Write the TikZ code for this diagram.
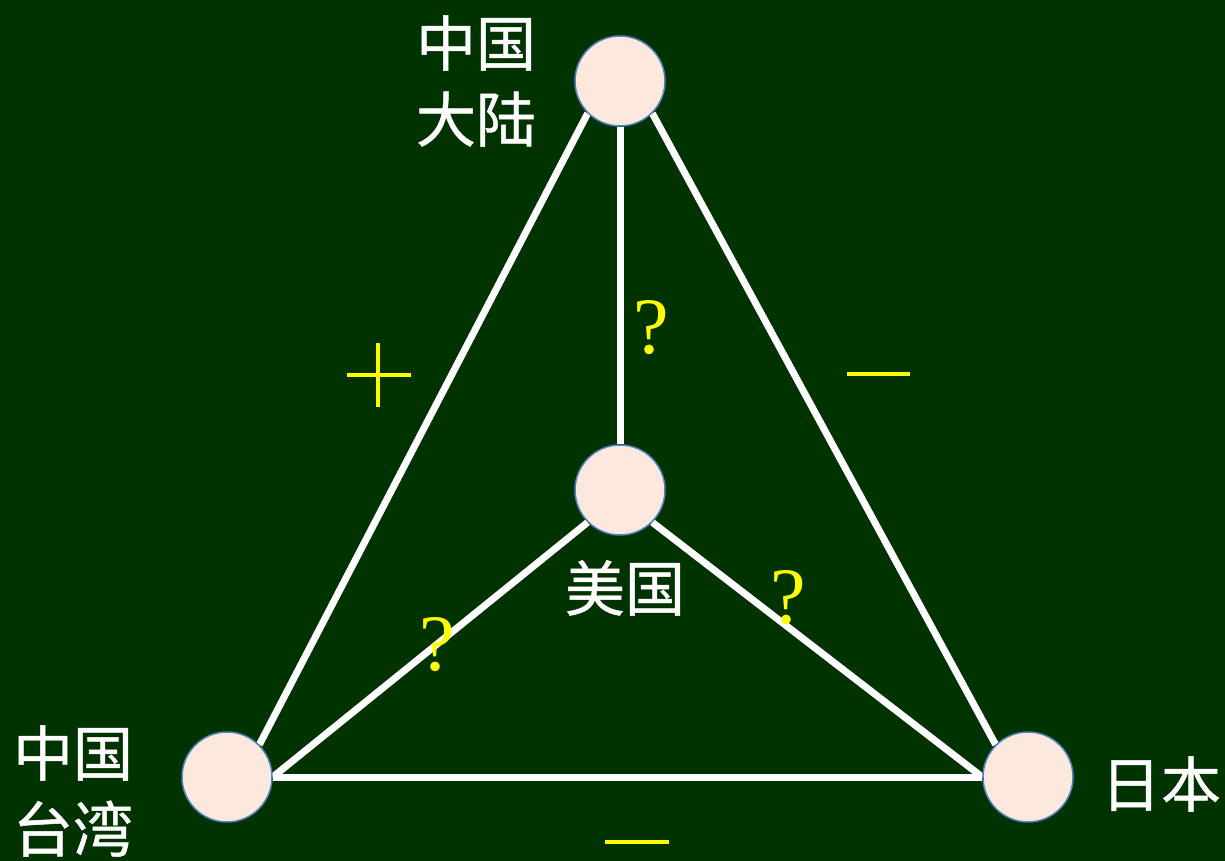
\documentclass[tikz,border=0pt]{standalone}
\usepackage{fontspec}
\newfontfamily\cjkfont[FakeBold=0.8]{Noto Sans CJK SC}
\newfontfamily\qfont{Liberation Serif}
\definecolor{boardgreen}{HTML}{003300}
\definecolor{ballfill}{HTML}{FCE8DC}
\definecolor{ballborder}{HTML}{4F81BD}
\definecolor{signyellow}{HTML}{FFFF00}
\pgfdeclarelayer{bg}
\pgfdeclarelayer{edges}
\pgfsetlayers{bg,edges,main}
\tikzset{
  ball/.style={circle, minimum size=90pt, inner sep=0pt, fill=ballfill, draw=ballborder, line width=1.5pt},
  link/.style={draw=white, line width=7pt},
  cjklabel/.style={text=white, align=center, inner sep=0pt, font=\cjkfont\fontsize{60}{76}\selectfont},
  qmark/.style={text=signyellow, inner sep=0pt, font=\qfont\fontsize{80}{80}\selectfont},
  sign/.style={draw=signyellow, line width=4pt}
}
\begin{document}
\begin{tikzpicture}[x=1pt, y=-1pt]
\useasboundingbox (0,0) rectangle (1225,861);
\begin{pgfonlayer}{bg}
\fill[boardgreen] (0,0) rectangle (1225,861);
\end{pgfonlayer}
% balls
\node[ball] (top) at (620,81) {};
\node[ball] (mid) at (620,490) {};
\node[ball] (bl) at (227,777) {};
\node[ball] (br) at (1028,777) {};
% links
\begin{pgfonlayer}{edges}
\draw[link] (top.south west) -- (bl.north east);
\draw[link] (top.south east) -- (br.north west);
\draw[link] (top.south) -- (mid.north);
\draw[link] (mid.south west) -- (bl.east);
\draw[link] (mid.south east) -- (br.west);
\draw[link] (bl.east) -- (br.west);
\end{pgfonlayer}
% labels
\node[cjklabel] (ltop) at (476,81) {中国\\大陆};
\node[cjklabel] (lmid) at (625,588) {美国};
\node[cjklabel] (lbl) at (73,791) {中国\\台湾};
\node[cjklabel] (lbr) at (1161,784) {日本};
% question marks
\node[qmark] (q1) at (651,328) {?};
\node[qmark] (q2) at (437,645) {?};
\node[qmark] (q3) at (788,598) {?};
% signs
\coordinate (pl) at (347,375);
\coordinate (pr) at (411,375);
\coordinate (pt) at (378,343);
\coordinate (pb) at (378,407);
\draw[sign, line width=3.5pt] (pl) -- (pr);
\draw[sign, line width=3.5pt] (pt) -- (pb);
\coordinate (m1l) at (847,374);
\coordinate (m1r) at (910,374);
\draw[sign] (m1l) -- (m1r);
\coordinate (m2l) at (605,842);
\coordinate (m2r) at (669,842);
\draw[sign] (m2l) -- (m2r);
\end{tikzpicture}
\end{document}
